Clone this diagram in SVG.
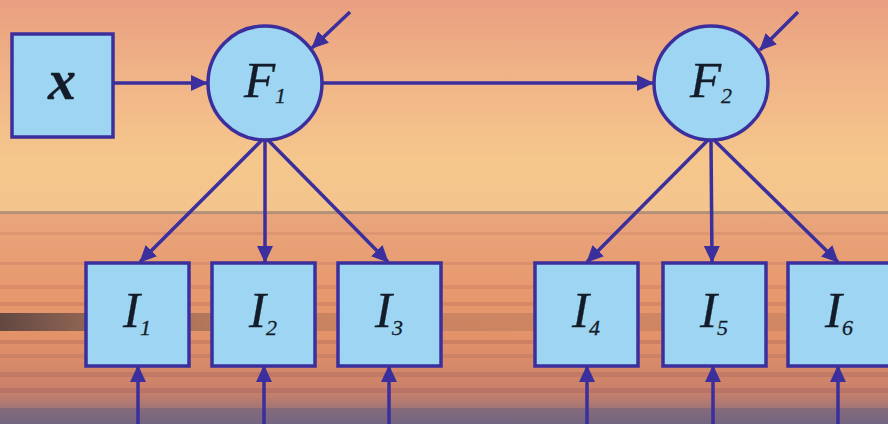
<svg xmlns="http://www.w3.org/2000/svg" width="888" height="424" viewBox="0 0 888 424">
<defs>
<linearGradient id="sky" x1="0" y1="0" x2="0" y2="1">
<stop offset="0" stop-color="#e99f80"/>
<stop offset="0.35" stop-color="#f0b387"/>
<stop offset="0.75" stop-color="#f5c78c"/>
<stop offset="1" stop-color="#f3c48c"/>
</linearGradient>
<linearGradient id="sea" x1="0" y1="0" x2="0" y2="1">
<stop offset="0" stop-color="#e9a57c"/>
<stop offset="0.3" stop-color="#e89b70"/>
<stop offset="0.6" stop-color="#e39268"/>
<stop offset="0.85" stop-color="#c9806a"/>
<stop offset="1" stop-color="#7c6a82"/>
</linearGradient>
<linearGradient id="darkband" x1="0" y1="0" x2="1" y2="0">
<stop offset="0" stop-color="#4a3a3a" stop-opacity="0.85"/>
<stop offset="0.1" stop-color="#5a4545" stop-opacity="0.6"/>
<stop offset="0.35" stop-color="#8a5a4a" stop-opacity="0.3"/>
<stop offset="1" stop-color="#8a5a4a" stop-opacity="0.2"/>
</linearGradient>
<marker id="ah" markerWidth="18" markerHeight="16" refX="16" refY="8" orient="auto" markerUnits="userSpaceOnUse">
<path d="M0,0 L17,8 L0,16 Z" fill="#3b2f9e"/>
</marker>
<style>
.node{fill:#9ed5f2;stroke:#3b2f9e;stroke-width:3.5}
.lbl{font-family:"Liberation Serif","DejaVu Serif",serif;font-style:italic;fill:#141c2a;stroke:#141c2a;stroke-width:0.3;text-anchor:middle}
.big{font-size:51px}
.sub{font-size:22px}
.edge{stroke:#3b2f9e;stroke-width:3.5;fill:none;marker-end:url(#ah)}
</style>
</defs>
<g id="background">
<rect x="0" y="0" width="888" height="214" fill="url(#sky)"/>
<rect x="0" y="213" width="888" height="211" fill="url(#sea)"/>
<rect x="0" y="211" width="888" height="3" fill="#9a8070" opacity="0.7"/>
<rect x="0" y="232" width="888" height="3" fill="#c98068" opacity="0.35"/>
<rect x="0" y="262" width="888" height="3" fill="#c07060" opacity="0.3"/>
<rect x="0" y="285" width="888" height="4" fill="#c07060" opacity="0.3"/>
<rect x="0" y="302" width="888" height="4" fill="#b06858" opacity="0.3"/>
<rect x="0" y="313" width="888" height="18" fill="url(#darkband)"/>
<rect x="0" y="340" width="888" height="4" fill="#a86058" opacity="0.35"/>
<rect x="0" y="354" width="888" height="4" fill="#b06a60" opacity="0.3"/>
<rect x="0" y="372" width="888" height="5" fill="#a06060" opacity="0.3"/>
<rect x="0" y="388" width="888" height="5" fill="#905a60" opacity="0.3"/>
<rect x="0" y="408" width="888" height="16" fill="#6e6280" opacity="0.55"/>
</g>
<g id="connectors">
<line class="edge" x1="113" y1="83" x2="207" y2="83"/>
<line class="edge" x1="323" y1="83" x2="653" y2="83"/>
<line class="edge" x1="350" y1="12" x2="312" y2="48"/>
<line class="edge" x1="798" y1="12" x2="760" y2="50"/>
<line class="edge" x1="262" y1="140" x2="140" y2="262"/>
<line class="edge" x1="265" y1="140" x2="265" y2="262"/>
<line class="edge" x1="268" y1="140" x2="388" y2="262"/>
<line class="edge" x1="708" y1="140" x2="587" y2="262"/>
<line class="edge" x1="711" y1="140" x2="712" y2="262"/>
<line class="edge" x1="714" y1="140" x2="838" y2="262"/>
<line class="edge" x1="138" y1="424" x2="138" y2="366"/>
<line class="edge" x1="264" y1="424" x2="264" y2="366"/>
<line class="edge" x1="389" y1="424" x2="389" y2="366"/>
<line class="edge" x1="587" y1="424" x2="587" y2="366"/>
<line class="edge" x1="713" y1="424" x2="713" y2="366"/>
<line class="edge" x1="838" y1="424" x2="838" y2="366"/>
</g>
<g id="node-x">
<rect class="node" x="12" y="34" width="101" height="103"/>
<text class="lbl" x="62" y="99" font-size="56" font-weight="bold">x</text>
</g>
<g id="node-F1">
<circle class="node" cx="265" cy="83" r="57"/>
<text class="lbl" x="265" y="97"><tspan class="big">F</tspan><tspan class="sub" dy="6">1</tspan></text>
</g>
<g id="node-F2">
<circle class="node" cx="711" cy="83" r="57"/>
<text class="lbl" x="711" y="97"><tspan class="big">F</tspan><tspan class="sub" dy="6">2</tspan></text>
</g>
<g id="node-I1">
<rect class="node" x="86" y="263" width="103" height="103"/>
<text class="lbl" x="137" y="327"><tspan class="big">I</tspan><tspan class="sub" dy="8">1</tspan></text>
</g>
<g id="node-I2">
<rect class="node" x="212" y="263" width="103" height="103"/>
<text class="lbl" x="263" y="327"><tspan class="big">I</tspan><tspan class="sub" dy="8">2</tspan></text>
</g>
<g id="node-I3">
<rect class="node" x="338" y="263" width="103" height="103"/>
<text class="lbl" x="389" y="327"><tspan class="big">I</tspan><tspan class="sub" dy="8">3</tspan></text>
</g>
<g id="node-I4">
<rect class="node" x="535" y="263" width="103" height="103"/>
<text class="lbl" x="586" y="327"><tspan class="big">I</tspan><tspan class="sub" dy="8">4</tspan></text>
</g>
<g id="node-I5">
<rect class="node" x="663" y="263" width="103" height="103"/>
<text class="lbl" x="714" y="327"><tspan class="big">I</tspan><tspan class="sub" dy="8">5</tspan></text>
</g>
<g id="node-I6">
<rect class="node" x="788" y="263" width="103" height="103"/>
<text class="lbl" x="839" y="327"><tspan class="big">I</tspan><tspan class="sub" dy="8">6</tspan></text>
</g>
</svg>
